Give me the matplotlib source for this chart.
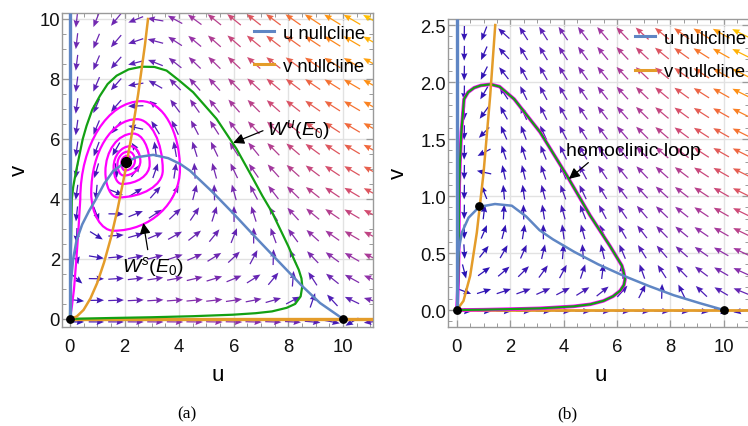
import numpy as np
import matplotlib
matplotlib.use('Agg')
import matplotlib.pyplot as plt
from matplotlib.colors import LinearSegmentedColormap, Normalize
from matplotlib.ticker import MultipleLocator, FormatStrFormatter
from matplotlib.lines import Line2D
from matplotlib.path import Path
from matplotlib.patches import PathPatch

plt.rcParams['font.family'] = ['Liberation Sans', 'DejaVu Sans']
plt.rcParams['mathtext.fontset'] = 'custom'
plt.rcParams['mathtext.rm'] = 'Liberation Sans'
plt.rcParams['mathtext.it'] = 'Liberation Sans:italic'

# ---------------- data ----------------
# u-nullcline (hump branch), panel (a)
unull_a_u = [0.02, 0.06, 0.12, 0.24, 0.45, 0.70, 0.92, 1.25, 1.59, 2.00, 2.44, 3.05, 3.60,
             4.03, 4.40, 5.20, 5.97, 6.80, 7.69, 8.50, 9.16, 10.0]
unull_a_v = [1.15, 1.44, 2.00, 2.61, 3.15, 3.60, 3.94, 4.50, 4.94, 5.20, 5.39, 5.47, 5.36,
             5.17, 4.94, 4.25, 3.53, 2.72, 1.87, 1.10, 0.53, 0.0]
# u-nullcline (hump branch), panel (b)
unull_b_u = [0.02, 0.06, 0.19, 0.44, 0.84, 1.43, 2.06, 2.60, 3.10, 3.60, 4.40, 5.30, 6.25,
             7.20, 8.12, 9.10, 10.0]
unull_b_v = [0.40, 0.51, 0.68, 0.81, 0.905, 0.93, 0.915, 0.82, 0.70, 0.62, 0.51, 0.40, 0.30,
             0.21, 0.13, 0.06, 0.0]
# v-nullcline (curved branch)
vnull_a_u = [0.0, 0.25, 0.50, 0.75, 1.00, 1.25, 1.50, 1.75, 2.00, 2.25, 2.50, 2.75, 2.86]
vnull_a_v = [0.0, 0.08, 0.30, 0.68, 1.20, 1.88, 2.70, 3.68, 4.80, 6.07, 7.50, 9.15, 10.0]
vnull_b_u = [0.0, 0.25, 0.50, 0.75, 1.00, 1.25, 1.44]
vnull_b_v = [0.0, 0.08, 0.30, 0.68, 1.20, 1.88, 2.50]
vnull_coef = 1.2          # curved v-nullcline read as v ~ 1.2 u^2

# unstable manifold W^u(E0), panel (a)
wu_a_u = [0, 1.5, 3.0, 4.5, 5.97, 6.8, 7.4, 7.94, 8.25, 8.45, 8.51, 8.48, 8.38, 8.2, 8.0,
          7.4, 7.05, 6.71, 6.1, 5.37, 4.51, 4.0, 3.54, 3.1, 2.63, 2.15, 1.71, 1.38, 1.1,
          0.82, 0.61, 0.47, 0.37, 0.22, 0.12, 0.07, 0.05, 0.03, 0.02, 0.0]
wu_a_v = [0, 0.03, 0.055, 0.09, 0.14, 0.19, 0.25, 0.37, 0.5, 0.75, 1.09, 1.35, 1.64, 2.0, 2.42,
          3.56, 4.1, 4.67, 5.67, 6.67, 7.56, 7.95, 8.28, 8.4, 8.41, 8.32, 8.11, 7.83, 7.44,
          6.98, 6.44, 6.0, 5.56, 4.9, 4.4, 4.0, 3.0, 2.0, 1.0, 0.0]
# stable manifold W^s(E0), panel (a): spiral rings (right, top, left, bottom extremes)
ring_R_u = [2.24, 2.38, 2.58, 2.92, 3.40, 4.03]
ring_R_v = [5.25, 5.28, 5.26, 5.15, 4.95, 5.00]
ring_T_u = [2.11, 2.15, 2.22, 2.32, 2.45, 2.62]
ring_T_v = [5.44, 5.58, 5.76, 6.18, 6.66, 7.26]
ring_L_u = [1.88, 1.74, 1.60, 1.30, 0.78, 0.38]
ring_L_v = [5.20, 5.15, 5.05, 4.90, 4.20, 4.00]
ring_B_u = [2.02, 1.97, 1.90, 1.75, 1.60]
ring_B_v = [4.95, 4.78, 4.50, 4.05, 2.94]
ws_tail_u = [0.30, 0.22, 0.15, 0.07, 0.0]
ws_tail_v = [2.80, 1.80, 1.00, 0.40, 0.0]

# homoclinic loop, panel (b)
loop_b_u = [0, 1.0, 2.0, 3.12, 4.37, 5.0, 5.49, 5.85, 6.12, 6.26, 6.30, 6.25, 6.18, 5.74,
            4.99, 4.12, 3.12, 2.15, 1.60, 1.27, 0.90, 0.65, 0.42, 0.27, 0.17, 0.12, 0.09,
            0.08, 0.07, 0.05, 0.02, 0.0]
loop_b_v = [0, 0.003, 0.008, 0.015, 0.032, 0.05, 0.08, 0.12, 0.17, 0.22, 0.27, 0.33, 0.39,
            0.56, 0.83, 1.18, 1.56, 1.85, 1.96, 1.98, 1.97, 1.95, 1.91, 1.85, 1.56, 1.30,
            1.09, 0.80, 0.50, 0.25, 0.08, 0.0]

# equilibria
eq_a_u = [0.0, 10.0]
eq_a_v = [0.0, 0.0]
estar_a = (2.07, 5.22)
eq_b_u = [0.0, 10.0, 0.84]
eq_b_v = [0.0, 0.0, 0.91]

# fitted field parameters (from arrow directions in the picture)
beta, q = 0.151, 0.0205
Au_a, pu_a = 1.0, 1
Au_b, pu_b = 0.45, 2

legend_labels = ['u nullcline', 'v nullcline']

# ---------------- styling ----------------
BLUE = '#5f86c4'
ORANGE = '#e49c2a'
GREEN = '#13a013'
MAGENTA = '#ff00ff'
FRAME = '#9a9a9a'
cmap = LinearSegmentedColormap.from_list(
    'mma', [(0.0, '#2410b4'), (0.25, '#5a22b6'), (0.45, '#9a34a6'),
            (0.62, '#d24c72'), (0.78, '#f26a3a'), (0.9, '#ff9212'), (1.0, '#ffc000')])

W, H = 748, 427
fig = plt.figure(figsize=(W / 100, H / 100), dpi=100)
ax_a = fig.add_axes([62 / W, 99 / H, 311 / W, 314 / H])
ax_b = fig.add_axes([448 / W, 99 / H, 301.2 / W, 308 / H])
ax_a.set_xlim(-0.29, 11.1)
ax_a.set_ylim(-0.27, 10.2)
ax_b.set_xlim(-0.33, 10.95)
ax_b.set_ylim(-0.149, 2.553)


def interp_extrap(x, xp, fp):
    xp = np.asarray(xp, float)
    fp = np.asarray(fp, float)
    y = np.interp(x, xp, fp)
    slope = (fp[-1] - fp[-2]) / (xp[-1] - xp[-2])
    right = x > xp[-1]
    y[right] = fp[-1] + slope * (x[right] - xp[-1])
    return y


def draw_field(ax, cols, rows, nu, nv, A, p):
    X, Y = np.meshgrid(cols, rows)
    Fu = interp_extrap(X.ravel(), nu, nv).reshape(X.shape)
    du = A * X ** p * (Fu - Y)
    dv = beta * Y * (vnull_coef * X ** 2 - Y) / (1 + q * X ** 2)
    bbox = ax.get_position()
    sx = bbox.width * W / np.diff(ax.get_xlim())[0]
    sy = bbox.height * H / np.diff(ax.get_ylim())[0]
    px, py = du * sx, dv * sy
    n = np.hypot(px, py) + 1e-12
    mag = np.hypot(du, dv)
    nm = mag / mag.max()
    L = 14.5 + 5.0 * np.sqrt(nm)
    ax.quiver(X, Y, px / n * L, py / n * L, nm ** 0.5, cmap=cmap, norm=Normalize(0, 1),
              angles='uv', scale_units='dots', scale=1, units='dots', width=1.25,
              headwidth=5.0, headlength=6.0, headaxislength=5.4, pivot='middle', zorder=2)


def style(ax, xmaj, xmin, ymaj, ymin):
    ax.xaxis.set_major_locator(MultipleLocator(xmaj))
    ax.xaxis.set_minor_locator(MultipleLocator(xmin))
    ax.yaxis.set_major_locator(MultipleLocator(ymaj))
    ax.yaxis.set_minor_locator(MultipleLocator(ymin))
    ax.tick_params(which='both', direction='in', top=True, right=True, color=FRAME,
                   labelsize=13.3, labelcolor='#111111')
    ax.tick_params(which='major', length=5, width=0.9)
    ax.tick_params(which='minor', length=3, width=0.7)
    ax.tick_params(axis='x', pad=8)
    ax.tick_params(axis='y', pad=1.5)
    for s in ax.spines.values():
        s.set_color(FRAME)
        s.set_linewidth(1.0)
    ax.grid(True, which='major', color='#e2e2e2', lw=1.0, zorder=0)
    ax.set_axisbelow(True)


style(ax_a, 2, 0.5, 2, 0.5)
style(ax_b, 2, 0.5, 0.5, 0.1)
ax_b.yaxis.set_major_formatter(FormatStrFormatter('%.1f'))

# vector fields
draw_field(ax_a, 0.25 + 0.72 * np.arange(16), -0.1 + 0.72 * np.arange(15),
           unull_a_u, unull_a_v, Au_a, pu_a)
draw_field(ax_b, 0.28 + 0.74 * np.arange(15), -0.01 + 0.174 * np.arange(15),
           unull_b_u, unull_b_v, Au_b, pu_b)

# ---------------- panel (a) curves ----------------
ax_a.plot([0, 11.1], [0, 0], color=ORANGE, lw=2.4, zorder=3, solid_capstyle='butt')
ax_a.plot(wu_a_u, wu_a_v, color=GREEN, lw=1.6, zorder=4)

# W^s spiral: elliptical cubic Bezier arcs between ring extremes
KAPPA = 0.5523


def arc(P, Q, corner):
    c1 = (P[0] + KAPPA * (corner[0] - P[0]), P[1] + KAPPA * (corner[1] - P[1]))
    c2 = (Q[0] + KAPPA * (corner[0] - Q[0]), Q[1] + KAPPA * (corner[1] - Q[1]))
    return [c1, c2, Q]


verts = [(ring_R_u[0], ring_R_v[0])]
codes = [Path.MOVETO]
nR = len(ring_R_u)
for k in range(nR):
    R = (ring_R_u[k], ring_R_v[k])
    T = (ring_T_u[k], ring_T_v[k])
    Lp = (ring_L_u[k], ring_L_v[k])
    verts += arc(R, T, (R[0], T[1])) + arc(T, Lp, (Lp[0], T[1]))
    codes += [Path.CURVE4] * 6
    if k < nR - 1:
        B = (ring_B_u[k], ring_B_v[k])
        Rn = (ring_R_u[k + 1], ring_R_v[k + 1])
        verts += arc(Lp, B, (Lp[0], B[1])) + arc(B, Rn, (Rn[0], B[1]))
        codes += [Path.CURVE4] * 6
for uu, vv in zip(ws_tail_u, ws_tail_v):
    verts.append((uu, vv))
    codes.append(Path.LINETO)
ax_a.add_patch(PathPatch(Path(verts, codes), fc='none', ec=MAGENTA, lw=1.6, zorder=4))

ax_a.plot(unull_a_u, unull_a_v, color=BLUE, lw=1.8, zorder=5)
ax_a.plot(vnull_a_u, vnull_a_v, color=ORANGE, lw=1.8, zorder=5)
ax_a.plot([0, 0], [0, 10.2], color=BLUE, lw=2.4, zorder=5, solid_capstyle='butt')
ax_a.scatter(eq_a_u, eq_a_v, s=28, color='black', zorder=7, clip_on=False)
ax_a.scatter([estar_a[0]], [estar_a[1]], s=50, color='black', zorder=7)

# ---------------- panel (b) curves ----------------
ax_b.plot([0, 10.95], [0, 0], color=ORANGE, lw=2.0, zorder=3, solid_capstyle='butt')
ax_b.plot(loop_b_u, loop_b_v, color=MAGENTA, lw=2.6, zorder=4)
ax_b.plot(loop_b_u, loop_b_v, color=GREEN, lw=1.6, zorder=4)
ax_b.plot(unull_b_u, unull_b_v, color=BLUE, lw=1.8, zorder=5)
ax_b.plot(vnull_b_u, vnull_b_v, color=ORANGE, lw=1.8, zorder=5)
ax_b.plot([0, 0], [0, 2.553], color=BLUE, lw=2.4, zorder=5, solid_capstyle='butt')
ax_b.scatter(eq_b_u, eq_b_v, s=28, color='black', zorder=7, clip_on=False)

# ---------------- annotations ----------------
ap = dict(arrowstyle='-|>', color='black', lw=0.9, mutation_scale=16, shrinkA=1, shrinkB=0)
ax_a.annotate(r'$W^u(E_0)$', xy=(5.98, 5.87), xytext=(7.22, 6.33), ha='left', va='center',
              fontsize=14, zorder=8, arrowprops=dict(ap, relpos=(0.0, 0.5)))
ax_a.annotate(r'$W^s(E_0)$', xy=(2.69, 3.2), xytext=(1.9, 1.77), ha='left', va='center',
              fontsize=14, zorder=8, arrowprops=dict(ap, relpos=(0.43, 1.0)))
ax_b.annotate('homoclinic loop', xy=(4.2, 1.15), xytext=(4.08, 1.40), ha='left', va='center',
              fontsize=14, zorder=8, arrowprops=dict(ap, relpos=(0.2, 0.0)))

# legends
for ax, x0, y0 in ((ax_a, 0.617, 0.963), (ax_b, 0.62, 0.965)):
    handles = [Line2D([], [], color=BLUE, lw=2.2), Line2D([], [], color=ORANGE, lw=2.2)]
    ax.legend(handles, legend_labels, loc='upper left', bbox_to_anchor=(x0, y0),
              frameon=False, fontsize=13.3, handlelength=1.1, handletextpad=0.5,
              labelspacing=0.88, borderpad=0, borderaxespad=0)

# axis labels
for ax, xl, yl in ((ax_a, (0.5016, -0.150), (-0.138, 0.503)),
                   (ax_b, (0.508, -0.153), (-0.163, 0.503))):
    ax.set_xlabel('u', fontsize=16)
    ax.set_ylabel('v', fontsize=16)
    ax.xaxis.label.set_va('center')
    ax.yaxis.label.set_va('center')
    ax.xaxis.set_label_coords(*xl)
    ax.yaxis.set_label_coords(*yl)

fig.text(186.7 / W, 1 - 414.5 / H, '(a)', ha='center', va='center',
         family=['Liberation Serif', 'DejaVu Serif'], fontsize=12.5)
fig.text(567.0 / W, 1 - 414.5 / H, '(b)', ha='center', va='center',
         family=['Liberation Serif', 'DejaVu Serif'], fontsize=12.5)

fig.savefig('out.png', dpi=100)
